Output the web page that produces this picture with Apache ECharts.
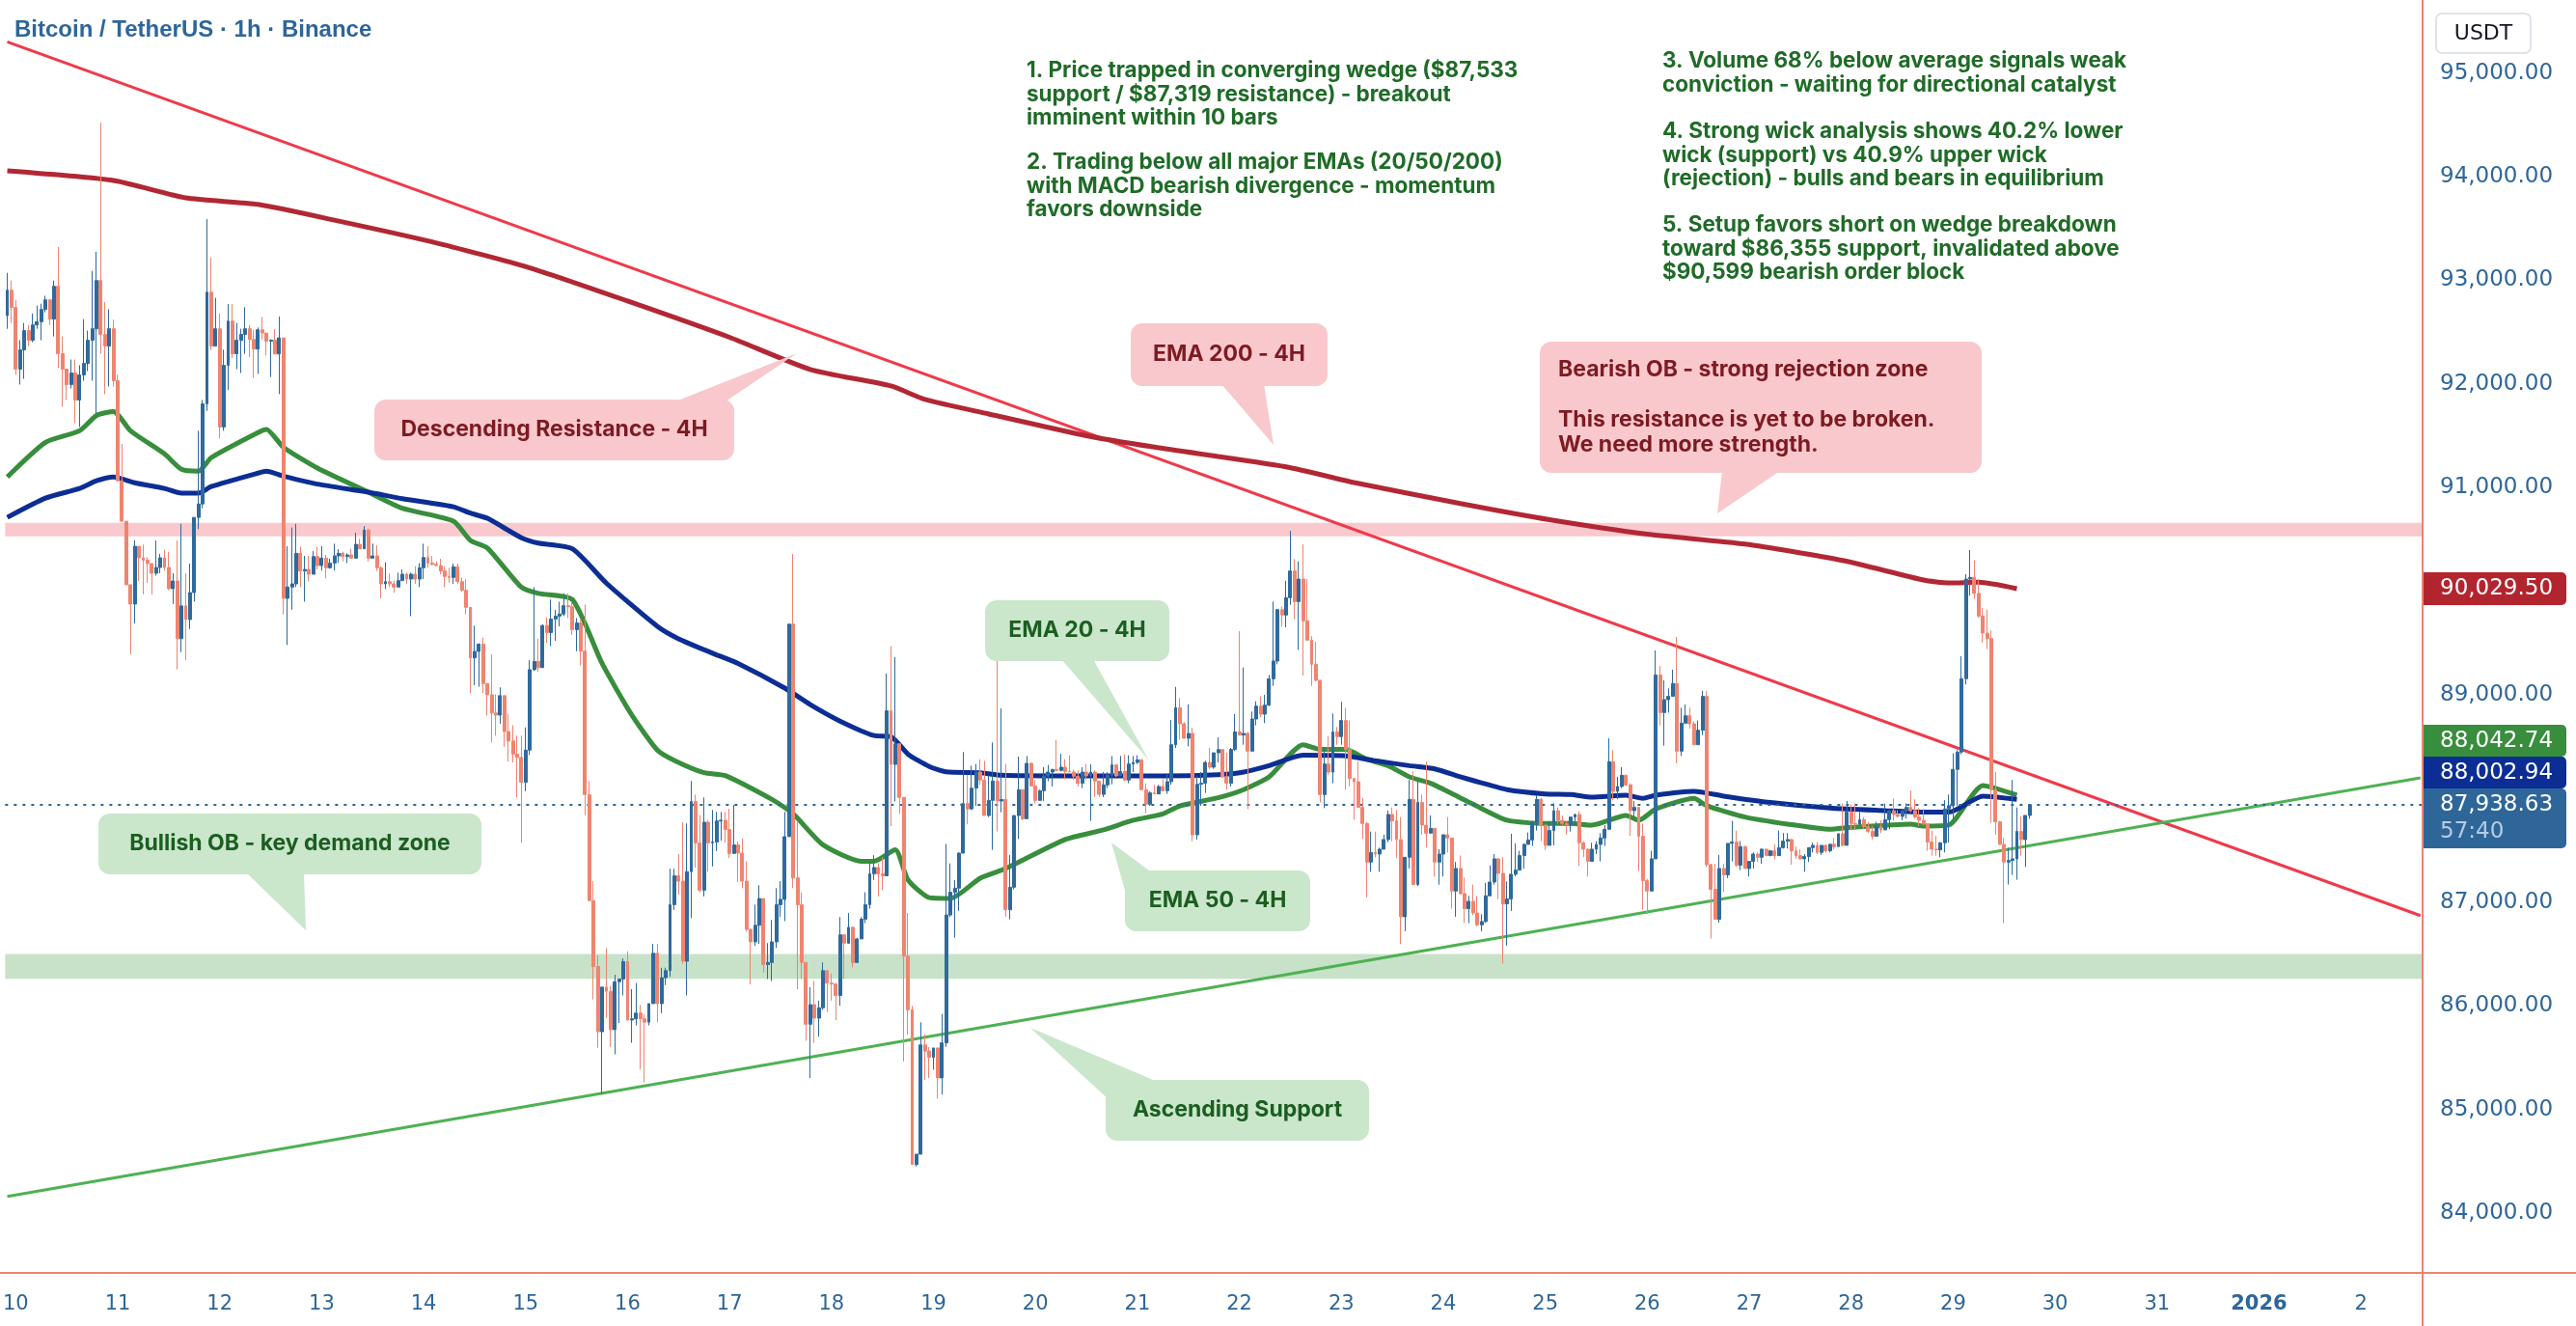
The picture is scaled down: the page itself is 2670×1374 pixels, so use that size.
<!DOCTYPE html>
<html>
<head>
<meta charset="utf-8">
<title>Bitcoin / TetherUS 1h</title>
<script src="https://cdn.jsdelivr.net/npm/echarts@6/dist/echarts.min.js"></script>
<style>
  html, body { margin: 0; padding: 0; background: #ffffff; }
  #chart { width: 2670px; height: 1374px; }
</style>
</head>
<body>
<div id="chart"></div>
<script>
// day labels under the x axis, one per 24 hourly slots (first slot = Dec 9 22:00)
var dayLabels = ['10','11','12','13','14','15','16','17','18','19','20','21','22','23','24','25','26','27','28','29','30','31','2026','2'];
var slotsBeforeFirstDay = 2;
var totalSlots = 569;

// hourly candles (open of each candle = previous close)
var firstOpen = 92660;
var closes = [
  // Dec 9 22h - Dec 12 06h
  92904,92737,92142,92328,92514,92421,92569,92600,92718,92811,92625,92941,92291,92142,91994,92105,91845,92086,92198,92421,92532,92997,92477,92365,92532,92031,91065,90675,90062,89876,90433,90322,90300,90266,90173,90229,90322,90229,90025,90099,89542,89858,89727,89987,90712,90842,91808,92885,92365,92532,91585,92179,92606,92291,92421,92477,92532,
  // Dec 12 07h - Dec 14 14h
  92429,92336,92522,92491,92413,92423,92289,92444,89931,90040,90071,90365,90195,90210,90164,90334,90247,90319,90226,90272,90341,90365,90334,90350,90319,90452,90409,90589,90319,90341,90226,90071,90092,90071,90040,90102,90164,90117,90164,90117,90226,90325,90272,90260,90247,90195,90142,90133,90236,90092,90009,89844,89357,89419,89490,89109,
  // Dec 14 15h - Dec 17 02h
  89000,88825,88805,88992,88646,88555,88428,88396,88157,88467,89243,89323,89263,89669,89601,89732,89760,89780,89860,89850,89629,89693,89422,88038,87015,86379,85750,86180,86140,85770,86232,86259,86426,85862,85874,85929,85874,85842,86021,86506,86021,86271,86339,86976,87254,87202,86430,87294,87970,87572,87115,87771,87572,87580,87783,87790,87700,87470,87552,87473,
  // Dec 17 03h - Dec 19 08h
  87203,86737,86617,86777,87035,86398,86418,86617,86976,87027,87632,89682,87234,86976,86418,85822,86011,85881,85981,86339,86219,86210,86100,86685,86605,86757,86418,86645,86836,86976,87274,87334,87274,87254,88846,88329,88528,88011,86478,85961,84468,84568,85623,85563,85503,85593,85304,85642,86876,87095,87135,87473,87950,87900,
  // Dec 19 09h - Dec 21 19h
  88100,88255,88178,87836,87982,88168,87976,87990,86927,87144,87836,88085,87805,88339,88122,87982,88075,88218,88255,88280,88271,88302,88261,88255,88215,88147,88255,88218,88255,88168,88040,88131,88224,88324,88218,88261,88178,88333,88348,88373,88085,87945,88054,88044,88116,88075,88162,88519,88876,88721,88581,88628,87650,88137,88147,88348,88302,88441,88472,
  // Dec 21 20h - Dec 24 04h
  88209,88147,88473,88643,88612,88628,88457,88767,88891,88814,88901,89155,89326,89822,89770,89937,90195,89900,90117,89714,89528,89295,89140,88038,88333,88255,88643,88597,88752,88473,88193,88162,87914,87759,87387,87480,87464,87511,87604,87846,87784,87604,86859,87433,87992,87169,87961,87743,87666,87712,87387,87464,87650,87619,87107,87325,87082,
  // Dec 24 05h - Dec 26 13h
  86937,87008,86896,86781,86813,87061,87194,87418,87278,86983,87030,87269,87309,87449,87557,87600,87774,87992,87743,87548,87691,87883,87790,87759,87743,87821,87846,87573,87511,87393,87511,87557,87619,87703,88355,88069,88116,88224,88131,87883,87914,87635,87207,87107,87418,89192,88829,88954,88985,89109,88457,88727,88798,88721,88519,88659,88985,
  // Dec 26 14h - Dec 28 17h
  87362,87123,86834,87325,87263,87567,87579,87356,87536,87325,87393,87464,87433,87511,87449,87495,87449,87526,87589,87604,87495,87449,87418,87440,87526,87548,87480,87548,87495,87558,87536,87660,87548,87868,87759,87753,87796,87728,87682,87635,87728,87697,87796,87883,87846,87827,87883,87914,87883,87821,87790,87753,
  // Dec 28 18h - Dec 29 18h
  87579,87511,87505,87573,87899,87930,88281,88448,89156,90117,90133,89978,89761,89596,89543,88085,87775,87557,87387,87402,87418,87682,87604,87837,87939
];
var highs = [
  93071,92997,92811,92421,92588,92569,92680,92755,92774,92850,92811,92997,93320,92458,92142,92235,92235,92180,92625,92514,93090,93275,94520,92790,92720,92620,92090,91420,90675,90062,90490,90433,90450,90330,90266,90489,90360,90400,90380,90173,90489,90650,90173,90266,90712,91548,91845,93590,93220,92830,92680,92330,92770,92770,92588,92532,92740,
  92568,92522,92544,92646,92491,92429,92528,92650,92444,90434,90614,90650,90428,90341,90341,90387,90428,90434,90350,90313,90458,90406,90381,90365,90409,90564,90505,90629,90604,90458,90443,90241,90280,90170,90102,90179,90210,90179,90179,90241,90272,90458,90434,90341,90288,90313,90241,90226,90266,90266,90133,90117,89844,89667,89496,89552,
  89110,89390,89004,89072,88992,88817,88706,88607,88607,88686,89334,90039,89541,89681,89748,89919,89820,89899,89979,89979,89899,89740,89720,89872,88169,87202,86486,86180,86558,86192,86299,86259,86458,86526,86160,86220,86009,85920,86021,86598,86598,86367,86367,87322,87322,87465,87771,87759,88169,88038,87839,88010,87791,87890,87871,87871,87871,87900,87938,87585,
  87613,87394,86745,86976,87163,87035,86605,86828,87135,87203,87871,89682,90359,87772,87095,86418,86180,86239,86050,86418,86339,86311,86219,86856,86685,86896,86765,86657,86856,87095,87374,87453,87374,87433,89205,89471,89364,88528,88011,86896,86001,84568,85841,85722,85603,85593,85593,85921,87561,87374,87214,87481,88448,88229,
  88317,88333,88379,88364,88224,88541,89394,88870,88333,87455,87836,88404,88091,88410,88348,88178,88085,88302,88324,88286,88566,88432,88379,88417,88277,88271,88302,88333,88330,88271,88170,88255,88255,88410,88317,88410,88426,88417,88410,88417,88379,88147,88069,88131,88131,88187,88240,88758,89077,88969,88736,88907,88683,88218,88255,88364,88488,88441,88590,
  88479,88442,88488,88814,89614,89264,88643,88839,88938,88985,89000,89192,89900,89829,89853,90102,90583,90310,90288,90452,90117,89565,89512,89140,88479,88603,88820,88690,88932,88876,88752,88199,88355,88007,87774,87681,87681,87526,87650,87883,87914,87889,87821,87433,88178,88262,88162,88038,88355,87836,87712,87511,87650,87821,87619,87387,87449,
  87238,87061,87169,87061,86884,87185,87355,87464,87424,87433,87200,87660,87566,87495,87566,87672,87774,88032,88007,87743,87774,87954,87914,87836,87784,87827,87852,87877,87588,87517,87573,87588,87666,87743,88581,88466,88209,88302,88231,88147,87976,87898,87759,87225,87495,89428,89279,89140,89062,89242,89559,88876,88907,88876,88746,88752,89038,
  89038,87371,87371,87455,87371,87567,87784,87691,87589,87542,87393,87480,87480,87517,87505,87501,87558,87691,87666,87666,87610,87536,87511,87464,87526,87573,87579,87548,87558,87558,87620,87660,87952,87976,87945,87952,87868,87820,87775,87734,87775,87790,87952,87889,88000,87889,87883,87952,88076,87992,87908,87899,
  87759,87691,87641,87579,87983,88038,88436,88467,89373,90164,90397,90297,90117,89838,89823,89621,88256,87784,87620,87526,88178,87914,87827,87837,87945
];
var lows = [
  92532,92588,92086,91994,92049,92365,92402,92532,92421,92690,92569,92458,92152,91782,91845,91956,91622,91585,92030,92124,92031,91715,92291,91900,91975,91975,91065,90675,90062,89393,89690,90099,89970,90080,89969,90150,90173,90200,90010,89876,89245,89412,89337,89635,89900,90600,90800,91740,92328,92365,91474,91548,91940,92250,92142,92105,92290,
  92258,92057,92097,92429,92274,92066,92289,91901,89776,89481,89822,90040,90040,89900,90093,90179,90210,90200,90124,90217,90200,90272,90288,90272,90319,90313,90409,90409,90288,90319,90195,89931,90020,90040,89984,90040,90102,90071,89760,90071,90040,90117,90226,90247,90247,90164,90040,90080,90071,90071,89993,89776,89016,89093,89078,89016,
  88800,88539,88607,88722,88499,88356,88348,88010,87572,88070,88420,89231,89223,89271,89502,89470,89521,89661,89760,89740,89581,89422,89283,87839,87015,86061,85595,85146,85882,85603,85532,85834,86100,85862,85643,85810,85384,85261,85810,86021,85842,85929,86200,86279,86924,87075,86406,86100,86844,87333,87095,87055,87294,87345,87493,87592,87572,87425,87473,87195,
  87135,86717,86207,86578,86598,86319,86259,86239,86558,86856,86817,87632,87135,86160,86259,85662,85304,85642,85702,85961,85941,86050,85861,86001,86259,86598,86370,86418,86645,86797,86936,87215,87055,87115,87254,87732,87971,87851,85463,85722,84468,84448,84568,85284,85304,85384,85105,85145,85603,86856,86657,86916,87473,87751,
  87889,87929,88131,87836,87821,87504,87681,87867,86859,86834,87123,87610,87790,87821,88116,87951,87982,87976,88168,88116,88261,88261,88187,88255,88178,88116,88100,88178,87784,88013,88013,88013,88100,88137,88209,88218,88168,88147,88255,88333,88085,87858,87929,88044,88044,88069,88044,88131,88488,88566,88581,88503,87588,87604,87929,88054,88286,88286,88348,
  88199,88085,88116,88457,88612,88519,87898,88457,88705,88783,88727,88891,89087,89295,89658,89652,89869,89729,89434,89186,89528,89087,89130,87961,87908,88224,88147,88519,88519,88085,88116,87796,87914,87610,87045,87293,87433,87293,87511,87579,87588,87424,86595,86719,87325,87169,87154,87650,87526,87666,87247,87169,87247,87480,86937,86859,87076,
  86797,86797,86875,86766,86719,86803,87061,87169,87030,86409,86580,86915,87247,87309,87324,87557,87542,87691,87588,87505,87548,87548,87759,87743,87650,87681,87743,87349,87433,87247,87393,87464,87393,87542,87703,87982,87992,88100,88125,87641,87821,87300,86927,86884,87107,87418,88705,88510,88829,88985,88342,88411,88721,88674,88519,88519,88612,
  87340,86648,86834,86803,87101,87232,87393,87340,87309,87325,87247,87325,87387,87371,87443,87443,87412,87449,87517,87517,87362,87418,87412,87294,87387,87480,87464,87455,87480,87480,87511,87536,87542,87548,87703,87697,87744,87703,87666,87604,87635,87666,87697,87703,87784,87820,87790,87806,87868,87806,87734,87744,
  87495,87449,87449,87433,87480,87573,87806,87930,88426,89100,89956,89925,89745,89503,89441,87765,87651,87557,86797,87170,87263,87216,87449,87340,87806
];

// 4H moving averages, sampled at their bends: [hour slot, price]
var ema200 = [[0,94055],[25,93962],[42,93795],[59,93732],[77,93580],[100,93370],[123,93120],[146,92800],[170,92450],[189,92140],[208,91980],[216,91850],[231,91710],[254,91500],[270,91390],[301,91200],[317,91048],[342,90846],[363,90690],[386,90550],[409,90455],[432,90296],[451,90108],[457,90080],[464,90086],[473,90024]];
var ema20 = [[0,90712],[9,90898],[17,90991],[21,91065],[25,91102],[30,91046],[37,90991],[41,90946],[45,90946],[48,91009],[59,91139],[61,91157],[65,91110],[73,91033],[85,90955],[93,90893],[105,90815],[109,90753],[113,90703],[121,90516],[125,90464],[133,90409],[141,90078],[153,89661],[158,89541],[166,89402],[172,89303],[183,89065],[189,88906],[196,88747],[204,88607],[208,88596],[212,88428],[217,88309],[221,88257],[229,88249],[234,88224],[249,88218],[272,88218],[285,88230],[291,88255],[297,88317],[305,88417],[315,88411],[322,88364],[330,88317],[336,88286],[342,88209],[346,88162],[353,88085],[362,88044],[368,88038],[373,88013],[381,88032],[385,88001],[388,88032],[397,88069],[404,88023],[415,87961],[429,87908],[442,87883],[451,87868],[457,87868],[465,88023],[473,87992]];
var ema50 = [[0,91102],[9,91436],[17,91548],[21,91696],[25,91734],[29,91548],[37,91325],[41,91176],[45,91158],[48,91288],[59,91530],[61,91560],[65,91389],[73,91188],[85,90955],[93,90800],[105,90676],[109,90490],[113,90417],[121,90039],[125,89979],[133,89919],[140,89303],[147,88805],[153,88467],[157,88368],[164,88249],[169,88221],[180,87991],[185,87851],[192,87553],[201,87394],[204,87394],[209,87505],[212,87215],[217,87043],[222,87035],[229,87231],[235,87324],[249,87604],[258,87697],[265,87790],[272,87852],[276,87929],[285,88007],[291,88085],[297,88209],[305,88519],[309,88473],[315,88473],[320,88379],[325,88317],[330,88209],[335,88147],[342,88007],[345,87945],[353,87790],[362,87759],[368,87759],[373,87743],[381,87836],[384,87790],[388,87898],[397,88001],[400,87930],[409,87821],[419,87753],[429,87703],[434,87722],[448,87753],[451,87734],[457,87744],[465,88125],[473,88032]];

// wedge trend lines (end points at the first and last slot)
var descendingResistance = [[0,95300],[568,86870]];
var ascendingSupport = [[0,84160],[568,88200]];

// zones and last price
var bearishOB = [90530, 90660];
var bullishOB = [86260, 86500];
var lastPrice = 87938.63;

// price axis: ticks every 1000 from 83,000, top of the pane sits at ~95,704
var priceMin = 83000, priceMax = 95704, priceStep = 1000;

var candles = [];
var prev = firstOpen;
for (var j = 0; j < closes.length; j++) {
  var o = prev, c = closes[j];
  candles.push([o, c, Math.min(lows[j], o, c), Math.max(highs[j], o, c)]);
  prev = c;
}

var categories = [];
for (var k = 0; k < totalSlots; k++) categories.push('s' + k);

function dayLabelAt(index) {
  var h = index - slotsBeforeFirstDay;
  if (h < 0 || h % 24 !== 0) return null;
  return dayLabels[h / 24] || null;
}

var chart = echarts.init(document.getElementById('chart'));

var blue = '#2e6699';
var axisColor = '#f0846f';
var pinkBox = '#f9c8cc', pinkText = '#7d1a22';
var greenBox = '#cae6cb', greenText = '#1b5e20';

function callout(x, y, w, h, tail, bg, fg, text, left) {
  return {
    type: 'group',
    children: [
      { type: 'polygon', z: 50, shape: { points: tail }, style: { fill: bg } },
      { type: 'rect', z: 50, shape: { x: x, y: y, width: w, height: h, r: 12 }, style: { fill: bg } },
      {
        type: 'text', z: 51,
        x: left ? x + 19 : x + w / 2,
        y: y + h / 2,
        style: {
          text: text, fill: fg, font: 'bold 23px Inter',
          align: left ? 'left' : 'center', verticalAlign: 'middle', lineHeight: 26
        }
      }
    ]
  };
}

function tag(y, h, bg, text, sub) {
  var kids = [
    { type: 'rect', zlevel: 1, z: 60, shape: { x: 2512, y: y, width: 148, height: h, r: [0, 5, 5, 0] }, style: { fill: bg } },
    { type: 'text', zlevel: 1, z: 61, x: 2529, y: y + 17, style: { text: text, fill: '#ffffff', font: '23px "DejaVu Sans"', verticalAlign: 'middle' } }
  ];
  if (sub) kids.push({ type: 'text', zlevel: 1, z: 61, x: 2529, y: y + 45, style: { text: sub, fill: '#b7cbe2', font: '23px "DejaVu Sans"', verticalAlign: 'middle' } });
  return { type: 'group', children: kids };
}

var noteStyle = { fill: '#1f6b27', font: 'bold 22.5px Inter', lineHeight: 24.6, verticalAlign: 'top' };
function note(x, y, text) {
  return { type: 'text', x: x, y: y, z: 40, style: Object.assign({ text: text }, noteStyle) };
}

var option = {
  animation: false,
  backgroundColor: '#ffffff',
  grid: { left: 0, right: 159, top: 0, bottom: 9.6 },
  xAxis: {
    type: 'category',
    data: categories,
    boundaryGap: true,
    axisLine: { show: false },
    axisTick: { show: false },
    splitLine: { show: false },
    axisLabel: {
      margin: -23,
      color: blue,
      fontSize: 21,
      fontFamily: '"DejaVu Sans"',
      interval: function (index) { return dayLabelAt(index) !== null; },
      formatter: function (value, index) {
        var t = dayLabelAt(index);
        if (t === null) return '';
        return t === '2026' ? '{y|2026}' : t;
      },
      rich: { y: { fontWeight: 'bold', fontSize: 21, color: blue, fontFamily: '"DejaVu Sans"' } }
    }
  },
  yAxis: {
    type: 'value',
    position: 'right',
    min: priceMin,
    max: priceMax,
    interval: priceStep,
    axisLine: { show: false },
    axisTick: { show: false },
    splitLine: { show: false },
    axisLabel: {
      margin: 18,
      color: blue,
      fontSize: 23,
      fontFamily: '"DejaVu Sans"',
      showMaxLabel: false,
      formatter: function (v) {
        if (v < 84000 || v > 95000) return '';
        return v.toLocaleString('en-US', { minimumFractionDigits: 2, maximumFractionDigits: 2 });
      }
    }
  },
  series: [
    {
      type: 'line', name: 'zones', data: [], z: 1, silent: true,
      markArea: {
        silent: true,
        data: [
          [{ yAxis: bearishOB[0], itemStyle: { color: 'rgba(246,168,176,0.62)' } }, { yAxis: bearishOB[1] }],
          [{ yAxis: bullishOB[0], itemStyle: { color: 'rgba(165,208,168,0.62)' } }, { yAxis: bullishOB[1] }]
        ]
      },
      markLine: {
        silent: true, symbol: 'none', label: { show: false },
        lineStyle: { color: blue, type: [3, 6], width: 2 },
        data: [{ yAxis: lastPrice }]
      }
    },
    { type: 'line', name: 'Descending Resistance', data: descendingResistance, z: 3, silent: true, showSymbol: false,
      lineStyle: { color: '#ef3a4b', width: 3 } },
    { type: 'line', name: 'Ascending Support', data: ascendingSupport, z: 3, silent: true, showSymbol: false,
      lineStyle: { color: '#4fb153', width: 3 } },
    { type: 'line', name: 'EMA 200 - 4H', data: ema200, z: 4, silent: true, showSymbol: false, smooth: 0.2,
      lineStyle: { color: '#b22734', width: 5 } },
    { type: 'line', name: 'EMA 50 - 4H', data: ema50, z: 4, silent: true, showSymbol: false, smooth: 0.2,
      lineStyle: { color: '#388e3c', width: 5 } },
    { type: 'line', name: 'EMA 20 - 4H', data: ema20, z: 4, silent: true, showSymbol: false, smooth: 0.2,
      lineStyle: { color: '#0c2e94', width: 5 } },
    {
      type: 'candlestick', name: 'BTCUSDT', data: candles, z: 6, barWidth: 3.4, silent: true,
      itemStyle: { color: '#2e6a9e', color0: '#f0846f', borderColor: '#2e6a9e', borderColor0: '#f0846f', borderWidth: 1 }
    }
  ],
  graphic: [
    // scale borders
    { type: 'line', z: 30, shape: { x1: 0, y1: 1319, x2: 2670, y2: 1319 }, style: { stroke: axisColor, lineWidth: 2 } },
    { type: 'line', z: 30, shape: { x1: 2511, y1: 0, x2: 2511, y2: 1374 }, style: { stroke: axisColor, lineWidth: 2 } },

    { type: 'text', x: 15, y: 31, z: 40, style: { text: 'Bitcoin / TetherUS · 1h · Binance', fill: blue, font: 'bold 24px "Liberation Sans"', verticalAlign: 'middle' } },
    note(1064, 61, '1. Price trapped in converging wedge ($87,533\nsupport / $87,319 resistance) - breakout\nimminent within 10 bars'),
    note(1064, 156, '2. Trading below all major EMAs (20/50/200)\nwith MACD bearish divergence - momentum\nfavors downside'),
    note(1723, 51, '3. Volume 68% below average signals weak\nconviction - waiting for directional catalyst'),
    note(1723, 124, '4. Strong wick analysis shows 40.2% lower\nwick (support) vs 40.9% upper wick\n(rejection) - bulls and bears in equilibrium'),
    note(1723, 221, '5. Setup favors short on wedge breakdown\ntoward $86,355 support, invalidated above\n$90,599 bearish order block'),

    callout(388, 414, 373, 63, [[700, 416], [752, 416], [826, 366]], pinkBox, pinkText, 'Descending Resistance - 4H'),
    callout(1172, 335, 204, 65, [[1266, 398], [1310, 398], [1320, 461]], pinkBox, pinkText, 'EMA 200 - 4H'),
    callout(1596, 354, 458, 136, [[1785, 488], [1845, 488], [1780, 532]], pinkBox, pinkText,
      'Bearish OB - strong rejection zone\n\nThis resistance is yet to be broken.\nWe need more strength.', true),
    callout(1021, 622, 191, 63, [[1100, 683], [1133, 683], [1191, 788]], greenBox, greenText, 'EMA 20 - 4H'),
    callout(102, 843, 397, 63, [[255, 904], [315, 904], [317, 964]], greenBox, greenText, 'Bullish OB - key demand zone'),
    callout(1166, 902, 192, 63, [[1152, 873], [1195, 905], [1168, 930]], greenBox, greenText, 'EMA 50 - 4H'),
    callout(1146, 1119, 273, 63, [[1068, 1065], [1200, 1121], [1150, 1140]], greenBox, greenText, 'Ascending Support'),

    { type: 'rect', zlevel: 1, z: 60, shape: { x: 2525, y: 14, width: 98, height: 41, r: 6 }, style: { fill: '#ffffff', stroke: '#d6dae2', lineWidth: 1.5 } },
    { type: 'text', zlevel: 1, z: 61, x: 2574, y: 35, style: { text: 'USDT', fill: '#131722', font: '22px "DejaVu Sans"', align: 'center', verticalAlign: 'middle' } },

    tag(593, 34, '#b2252f', '90,029.50'),
    tag(751, 33, '#388e3c', '88,042.74'),
    tag(784, 33, '#0c2e94', '88,002.94'),
    tag(817, 62, '#2e6699', '87,938.63', '57:40')
  ]
};

chart.setOption(option);
</script>
</body>
</html>
